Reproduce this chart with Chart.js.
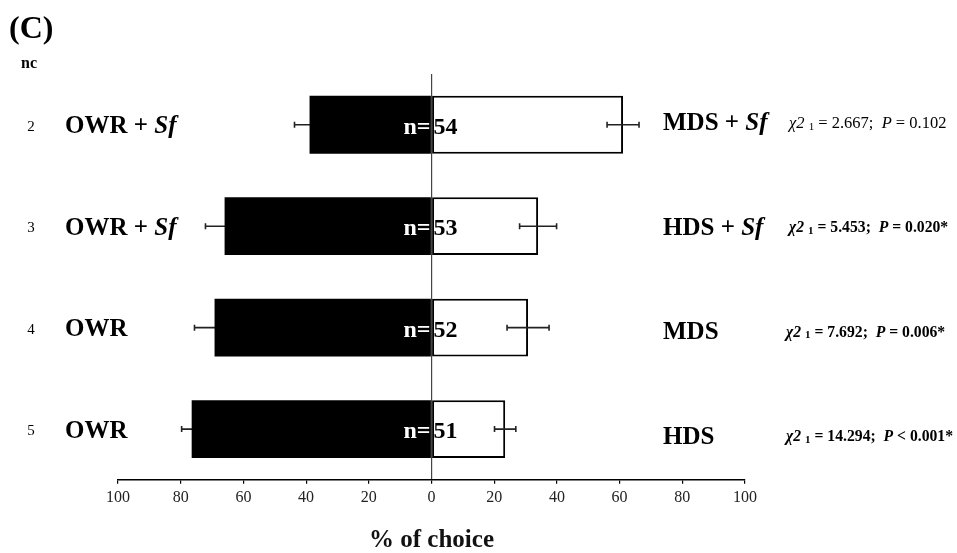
<!DOCTYPE html>
<html>
<head>
<meta charset="utf-8">
<script src="https://cdn.jsdelivr.net/npm/chart.js@4.4.1/dist/chart.umd.min.js"></script>
<style>
  html, body { margin: 0; padding: 0; background: #fff; }
</style>
</head>
<body>
<canvas id="choiceChart" width="957" height="553"></canvas>
<script>
// choiceChart - two-choice test, % of choice per pair
// left odour drawn as black bar (negative side), right odour as white bar

const ncLabels    = ["2", "3", "4", "5"];
const leftOdours  = ["OWR + Sf", "OWR + Sf", "OWR", "OWR"];
const rightOdours = ["MDS + Sf", "HDS + Sf", "MDS", "HDS"];
const sampleSizes = [54, 53, 52, 51];

// % of choice
const leftChoice  = [38.9, 66.0, 69.2, 76.5];
const rightChoice = [61.1, 34.0, 30.8, 23.5];
const leftError   = [4.8, 6.1, 6.4, 3.2];
const rightError  = [5.1, 5.9, 6.7, 3.4];

// chi-square results shown on the right
const chiValues   = ["2.667", "5.453", "7.692", "14.294"];
const pValues     = ["= 0.102", "= 0.020*", "= 0.006*", "< 0.001*"];
const significant = [false, true, true, true];

const SERIF = '"Liberation Serif", "Times New Roman", serif';

function font(size, bold, italic) {
    return (italic ? "italic " : "") + (bold ? "bold " : "") + size + "px " + SERIF;
}

// draws a list of text runs one after another, returns end x
function drawRuns(ctx, x, y, runs) {
    runs.forEach(r => {
        ctx.font = font(r.size, r.bold, r.italic);
        ctx.fillText(r.text, x, y + (r.dy || 0));
        x += ctx.measureText(r.text).width;
    });
    return x;
}

// "Sf" is always set in italics
function odourRuns(label, size) {
    if (label.endsWith("Sf")) {
        return [
            { text: label.slice(0, -2), size, bold: true },
            { text: "Sf", size, bold: true, italic: true },
        ];
    }
    return [{ text: label, size, bold: true }];
}

function chiRuns(i) {
    const b = significant[i];
    const s = b ? 15.7 : 16.5;
    return [
        { text: "\u03C72", size: s, bold: b, italic: true },
        { text: " ", size: s, bold: b },
        { text: "1", size: 11, bold: b, dy: 3 },
        { text: " = " + chiValues[i] + ";  ", size: s, bold: b },
        { text: "P", size: s, bold: b, italic: true },
        { text: " " + pValues[i], size: s, bold: b },
    ];
}

function drawErrorBar(chart, v, e, i) {
    const { ctx, scales: { x, y } } = chart;
    const cap = 3;
    const yc = y.getPixelForValue(i);
    const x1 = x.getPixelForValue(v - e);
    const x2 = x.getPixelForValue(v + e);
    ctx.save();
    ctx.strokeStyle = "#222";
    ctx.lineWidth = 1.6;
    ctx.beginPath();
    ctx.moveTo(x1, yc); ctx.lineTo(x2, yc);
    ctx.moveTo(x1, yc - cap); ctx.lineTo(x1, yc + cap);
    ctx.moveTo(x2, yc - cap); ctx.lineTo(x2, yc + cap);
    ctx.stroke();
    ctx.restore();
}

// black-bar errors go under the bars, white-bar errors on top
const errorBars = {
    id: "errorBars",
    beforeDatasetsDraw(chart) {
        leftChoice.forEach((v, i) => drawErrorBar(chart, -v, leftError[i], i));
    },
    afterDatasetsDraw(chart) {
        rightChoice.forEach((v, i) => drawErrorBar(chart, v, rightError[i], i));
    }
};

const textLabels = {
    id: "textLabels",
    afterDraw(chart) {
        const { ctx, scales: { x, y } } = chart;
        const x0 = x.getPixelForValue(0);
        ctx.save();
        ctx.textBaseline = "middle";
        ctx.fillStyle = "#000";

        // panel letter and column header
        ctx.textAlign = "left";
        ctx.font = font(32, true);
        ctx.fillText("(C)", 9, 30);
        ctx.font = font(16, true);
        ctx.fillText("nc", 21, 64);

        ncLabels.forEach((nc, i) => {
            const yc = y.getPixelForValue(i);
            const yl = yc + 2;
            const yr = yc + 3 * i - 1;

            ctx.textAlign = "center";
            ctx.fillStyle = "#000";
            ctx.font = font(15, false);
            ctx.fillText(nc, 31, yl);

            ctx.textAlign = "left";
            drawRuns(ctx, 65, yl, odourRuns(leftOdours[i], 25));
            drawRuns(ctx, 663, yr, odourRuns(rightOdours[i], 25));
            drawRuns(ctx, significant[i] && i > 1 ? 786 : 789, yr, chiRuns(i));

            // sample size in the middle of the bars
            ctx.font = font(24, true);
            ctx.textAlign = "right";
            ctx.fillStyle = "#fff";
            ctx.fillText("n=", x0 - 1, yc + 3);
            ctx.textAlign = "left";
            ctx.fillStyle = "#000";
            ctx.fillText(String(sampleSizes[i]), x0 + 2, yc + 3);
        });
        ctx.restore();
    }
};

const ctx = document.getElementById("choiceChart").getContext("2d");

new Chart(ctx, {
    type: "bar",
    data: {
        labels: ncLabels,
        datasets: [
            {
                label: "left",
                data: leftChoice.map(v => -v),
                backgroundColor: "#000",
                borderWidth: 0,
            },
            {
                label: "right",
                data: rightChoice,
                backgroundColor: "#fff",
                borderColor: "#000",
                borderWidth: 2,
                borderSkipped: false,
            },
        ],
    },
    options: {
        indexAxis: "y",
        responsive: false,
        animation: false,
        layout: { padding: { left: 118, right: 212, top: 74, bottom: 0 } },
        datasets: { bar: { categoryPercentage: 1, barPercentage: 0.57 } },
        scales: {
            x: {
                stacked: true,
                min: -100,
                max: 100,
                ticks: {
                    stepSize: 20,
                    color: "#222",
                    padding: 4,
                    font: { family: SERIF, size: 16 },
                    callback: v => Math.abs(v),
                },
                grid: {
                    color: c => (c.tick && c.tick.value === 0 ? "#444" : "rgba(0,0,0,0)"),
                    tickColor: "#000",
                    tickLength: 4,
                    lineWidth: 1.2,
                },
                border: { color: "#000", width: 1.5 },
                title: {
                    display: true,
                    text: "% of choice",
                    color: "#111",
                    font: { family: SERIF, size: 25, weight: "bold", lineHeight: 1.0 },
                    padding: { top: 17, bottom: 0 },
                },
            },
            y: { stacked: true, display: false },
        },
        plugins: {
            legend: { display: false },
            tooltip: { enabled: false },
        },
    },
    plugins: [errorBars, textLabels],
});
</script>
</body>
</html>
